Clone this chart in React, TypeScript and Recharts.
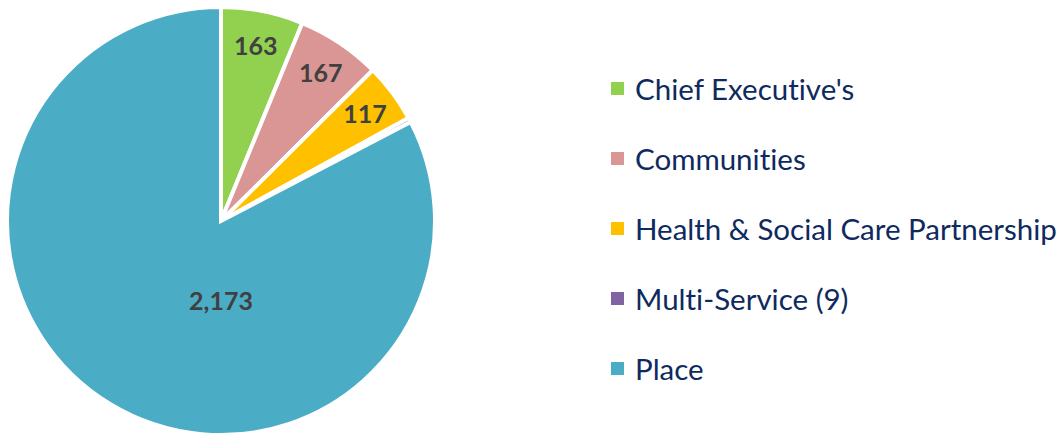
import { Cell, Legend, Pie, PieChart } from 'recharts'

const categories = ['Chief Executive\'s', 'Communities', 'Health & Social Care Partnership', 'Multi-Service (9)', 'Place']
const values = [163, 167, 117, 9, 2173]
const colors = ['#92D050', '#D99694', '#FFC000', '#8064A2', '#4BACC6']
const valueLabels = ['163', '167', '117', '', '2,173']

const data = categories.map((name, i) => ({ name, value: values[i] }))

const RADIAN = Math.PI / 180

function SliceLabel(props: any) {
  const { cx, cy, midAngle, outerRadius, percent, index } = props
  const text = valueLabels[index]
  if (!text) return null
  let x: number
  let y: number
  if (percent > 0.5) {
    // big slice: label sits just below the centre, like the original
    x = cx
    y = cy + outerRadius * 0.37
  } else {
    const r = outerRadius * 0.84
    x = cx + r * Math.cos(-midAngle * RADIAN)
    y = cy + r * Math.sin(-midAngle * RADIAN)
  }
  return (
    <text
      x={x}
      y={y}
      fill="#404040"
      textAnchor="middle"
      dominantBaseline="central"
      fontSize={25}
      fontWeight="bold"
      fontFamily="Lato, 'Open Sans', sans-serif"
    >
      {text}
    </text>
  )
}

function SideLegend() {
  return (
    <div style={{ fontFamily: "Lato, 'Open Sans', sans-serif", fontVariantLigatures: 'none' }}>
      {categories.map((name, i) => (
        <div
          key={name}
          style={{ display: 'flex', alignItems: 'center', height: 70, color: '#0E2A5E', fontSize: 29.5, whiteSpace: 'nowrap' }}
        >
          <span
            style={{ width: 13, height: 13, background: colors[i], display: 'inline-block', marginRight: 11, flexShrink: 0 }}
          />
          {name}
        </div>
      ))}
    </div>
  )
}

export default function App() {
  return (
    <div style={{ position: 'absolute', left: 0, top: 0, background: '#fff' }}>
      <PieChart width={1059} height={435} margin={{ top: 0, right: 0, bottom: 0, left: 0 }}>
        <Pie
          data={data}
          dataKey="value"
          nameKey="name"
          cx={221}
          cy={221}
          outerRadius={214}
          startAngle={90}
          endAngle={-270}
          stroke="#fff"
          strokeWidth={4}
          labelLine={false}
          label={SliceLabel}
          isAnimationActive={false}
        >
          {data.map((d, i) => (
            <Cell key={d.name} fill={colors[i]} />
          ))}
        </Pie>
        <Legend
          content={<SideLegend />}
          wrapperStyle={{ left: 611, top: 53, width: 448 }}
        />
      </PieChart>
    </div>
  )
}
